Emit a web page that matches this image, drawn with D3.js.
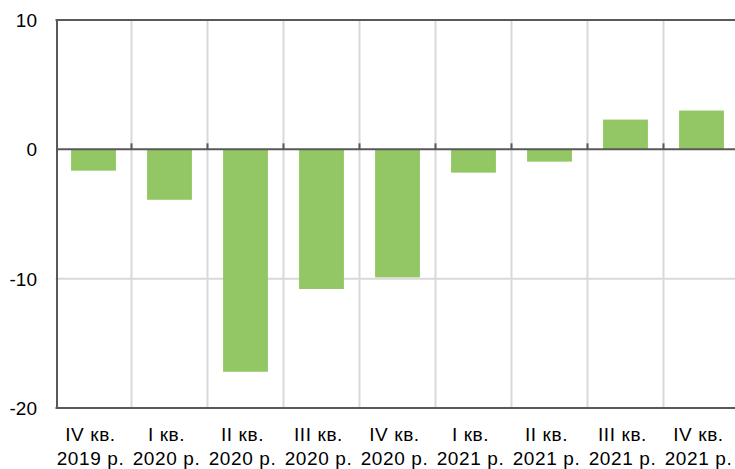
<!DOCTYPE html>
<html><head><meta charset="utf-8">
<script src="https://cdn.jsdelivr.net/npm/d3@7"></script>
<style>body{margin:0;background:#fff}svg{display:block;font-family:"Liberation Sans",Arial,sans-serif}</style>
</head><body>
<svg id="c" width="735" height="469"></svg>
<script>
const quarters = ["IV кв.", "I кв.", "II кв.", "III кв.", "IV кв.", "I кв.", "II кв.", "III кв.", "IV кв."];
const years = ["2019 р.", "2020 р.", "2020 р.", "2020 р.", "2020 р.", "2021 р.", "2021 р.", "2021 р.", "2021 р."];
const values = [-1.65, -3.9, -17.2, -10.8, -9.9, -1.8, -0.95, 2.3, 3.0];
const yTicks = [10, 0, -10, -20];

const svg = d3.select("#c");
const idx = d3.range(values.length);
const x = d3.scaleBand().domain(idx).range([55.5, 739.5]).paddingInner(0.41).paddingOuter(0.205);
const y = d3.scaleLinear().domain([-20, 10]).range([408, 20]);
const x0 = 55.5, x1 = 739.5;
const step = x.step();

// vertical gridlines
svg.append("g").selectAll("line").data(d3.range(1, values.length)).join("line")
  .attr("x1", d => x0 + d * step).attr("x2", d => x0 + d * step)
  .attr("y1", y(10)).attr("y2", y(-20))
  .attr("stroke", "#d9d9d9").attr("stroke-width", 2);
// horizontal -10 gridline
svg.append("line").attr("x1", x0).attr("x2", x1).attr("y1", y(-10)).attr("y2", y(-10))
  .attr("stroke", "#d9d9d9").attr("stroke-width", 2);

// bars
svg.append("g").selectAll("rect").data(idx).join("rect")
  .attr("x", i => x(i)).attr("width", x.bandwidth())
  .attr("y", i => y(Math.max(0, values[i])))
  .attr("height", i => Math.abs(y(values[i]) - y(0)))
  .attr("fill", "#93c764");

// border lines top, bottom, left
const dark = "#595959";
[10, -20].forEach(v => svg.append("line").attr("x1", x0).attr("x2", x1)
  .attr("y1", y(v)).attr("y2", y(v)).attr("stroke", dark).attr("stroke-width", 2));
svg.append("line").attr("x1", 57).attr("x2", 57).attr("y1", y(10) - 1).attr("y2", y(-20) + 1)
  .attr("stroke", dark).attr("stroke-width", 2);
// zero line + ticks
svg.append("line").attr("x1", 57).attr("x2", x1).attr("y1", y(0)).attr("y2", y(0))
  .attr("stroke", dark).attr("stroke-width", 2);
svg.append("g").selectAll("line").data(d3.range(1, values.length)).join("line")
  .attr("x1", d => x0 + d * step).attr("x2", d => x0 + d * step)
  .attr("y1", y(0) - 6).attr("y2", y(0))
  .attr("stroke", dark).attr("stroke-width", 2);

// y labels
svg.append("g").selectAll("text").data(yTicks).join("text")
  .attr("x", 37).attr("y", d => y(d) + 7).attr("text-anchor", "end")
  .attr("font-size", 19).attr("fill", "#000").text(d => d);

// x labels
const xl = svg.append("g").selectAll("text").data(idx).join("text")
  .attr("text-anchor", "middle").attr("font-size", 19).attr("letter-spacing", 0.6).attr("fill", "#000");
xl.append("tspan").attr("x", i => x(i) + x.bandwidth() / 2 - 3).attr("y", 441).text(i => quarters[i]);
xl.append("tspan").attr("x", i => x(i) + x.bandwidth() / 2 - 3).attr("y", 465).text(i => years[i]);
</script>
</body></html>
